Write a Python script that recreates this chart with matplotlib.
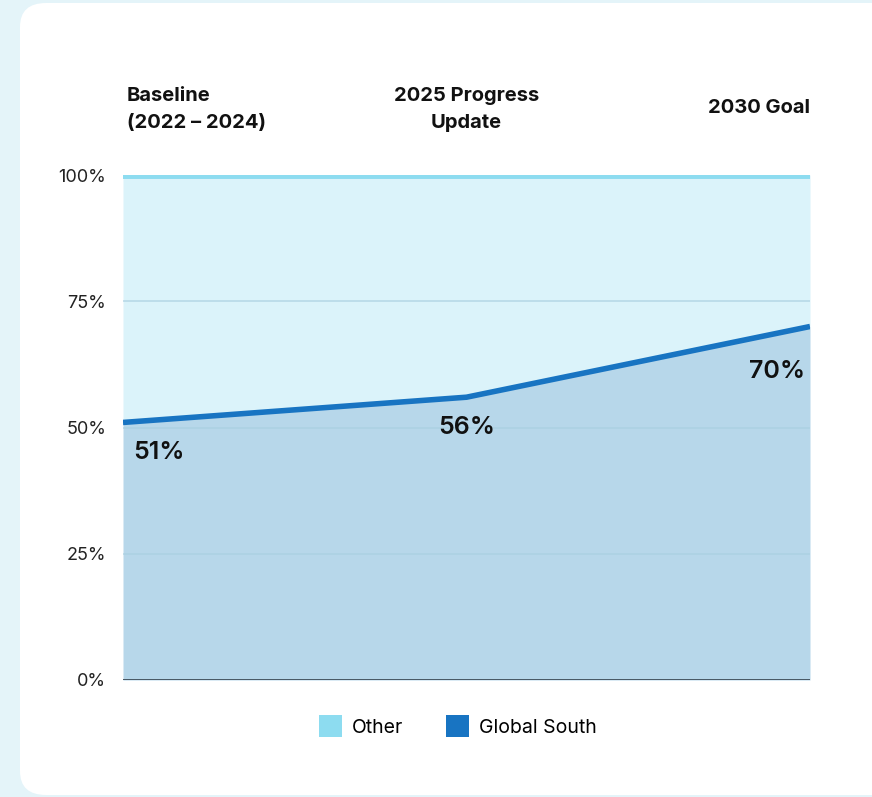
import matplotlib.pyplot as plt
from matplotlib.patches import FancyBboxPatch, Patch
import numpy as np

periods = ["Baseline\n(2022 – 2024)", "2025 Progress\nUpdate", "2030 Goal"]
global_south = [51, 56, 70]
other = [100 - v for v in global_south]
yticks = [0, 25, 50, 75, 100]
ytick_labels = ["0%", "25%", "50%", "75%", "100%"]

plt.rcParams['font.family'] = ['Inter', 'DejaVu Sans']

fig = plt.figure(figsize=(8.72, 7.97), dpi=100)
fig.patch.set_facecolor('#e4f4f9')

# white card (drawn behind the axes)
card = FancyBboxPatch((20 / 872, 2 / 797), 900 / 872, 792 / 797,
                      boxstyle="round,pad=0,rounding_size=0.03",
                      transform=fig.transFigure, facecolor='white',
                      edgecolor='none', zorder=-5)
fig.patches.append(card)

ax = fig.add_axes([123 / 872, 1 - 680 / 797, 687 / 872, 505 / 797])
ax.set_facecolor('none')

x = np.arange(len(global_south))
gs = np.array(global_south)
ax.fill_between(x, gs, 100, color='#dbf3fa', lw=0, zorder=1)
ax.fill_between(x, 0, gs, color='#b7d7ea', lw=0, zorder=1)
for t in [25, 50, 75]:
    ax.axhline(t, color='#a9cfe0', lw=1.2, alpha=0.7, zorder=2)
ax.plot(x, gs, color='#1874c2', lw=4, solid_capstyle='butt', zorder=3)
ax.axhline(100, color='#8ddcf0', lw=5, zorder=3)
ax.axhline(0, color='#3c4b57', lw=2, zorder=3)

ax.set_xlim(0, 2)
ax.set_ylim(0, 100)
ax.set_yticks(yticks)
ax.set_yticklabels(ytick_labels, fontsize=13, color='#222222')
ax.set_xticks([])
ax.tick_params(axis='y', length=0, pad=12)
for s in ax.spines.values():
    s.set_visible(False)

# value labels
ax.text(0.03, global_south[0] - 6, f"{global_south[0]}%", fontsize=18,
        fontweight='semibold', ha='left', va='center', color='#111111', zorder=4)
ax.text(1, global_south[1] - 6, f"{global_south[1]}%", fontsize=18,
        fontweight='semibold', ha='center', va='center', color='#111111', zorder=4)
ax.text(1.985, global_south[2] - 9, f"{global_south[2]}%", fontsize=18,
        fontweight='semibold', ha='right', va='center', color='#111111', zorder=4)

# period headers
ax.text(0.006, 1.13, periods[0], transform=ax.transAxes, fontsize=14.5,
        fontweight='bold', ha='left', va='center', color='#111111', linespacing=1.6)
ax.text(0.5, 1.13, periods[1], transform=ax.transAxes, fontsize=14.5,
        fontweight='bold', ha='center', va='center', color='#111111', linespacing=1.6)
ax.text(1.0, 1.133, periods[2], transform=ax.transAxes, fontsize=14.5,
        fontweight='bold', ha='right', va='center', color='#111111')

handles = [Patch(facecolor='#8ddcf0', label='Other'),
           Patch(facecolor='#1874c2', label='Global South')]
fig.legend(handles=handles, loc='center', bbox_to_anchor=(458 / 872, 1 - 726 / 797),
           ncol=2, frameon=False, fontsize=14, handlelength=1.2, handleheight=1.3,
           columnspacing=2.2, handletextpad=0.5)

fig.savefig('out.png', dpi=100, facecolor=fig.get_facecolor())
